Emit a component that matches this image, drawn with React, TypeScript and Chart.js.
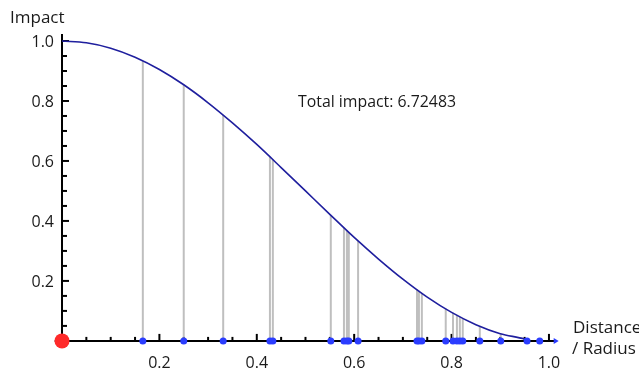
import React, { useEffect, useRef } from "react";
import { Chart, registerables } from "chart.js";

Chart.register(...registerables);

// Curve (Distance / Radius -> Impact)
const curveX = [0, 0.05, 0.1, 0.15, 0.2, 0.25, 0.3, 0.35, 0.4, 0.45, 0.5, 0.55, 0.6, 0.65, 0.7, 0.75, 0.8, 0.85, 0.9, 0.95, 0.96];
const curveY = [1.0, 0.994, 0.976, 0.946, 0.905, 0.854, 0.794, 0.727, 0.655, 0.578, 0.5, 0.422, 0.345, 0.273, 0.206, 0.146, 0.095, 0.054, 0.024, 0.006, 0.0];

// Sample points on the distance axis and their impact values
const sampleX = [0.166, 0.25, 0.331, 0.427, 0.433, 0.552, 0.579, 0.585, 0.589, 0.608, 0.729, 0.733, 0.739, 0.788, 0.803, 0.811, 0.817, 0.823, 0.858, 0.901, 0.955, 0.981];
const sampleImpact = [0.933, 0.854, 0.753, 0.614, 0.605, 0.419, 0.377, 0.368, 0.362, 0.333, 0.171, 0.167, 0.159, 0.107, 0.094, 0.086, 0.08, 0.075, 0.049, 0.024, 0.005, 0.001];

// Origin marker
const originX = [0];
const originY = [0];

// Tick labels
const xTickValues = [0.2, 0.4, 0.6, 0.8, 1.0];
const yTickValues = [0.2, 0.4, 0.6, 0.8, 1.0];
const minorStep = 0.05;

const xAxisTitle = ["Distance", "/ Radius"];
const yAxisTitle = "Impact";
const annotation = "Total impact: 6.72483";

const FONT = '"Open Sans", "DejaVu Sans", sans-serif';

const axesPlugin = {
  id: "customAxes",
  beforeDatasetsDraw(chart: any) {
    const { ctx, chartArea, scales } = chart;
    const xs = scales.x;
    const ys = scales.y;
    const x0 = xs.getPixelForValue(0);
    const y0 = ys.getPixelForValue(0);
    ctx.save();
    ctx.strokeStyle = "#000";
    ctx.lineWidth = 2;
    // y axis
    ctx.beginPath();
    ctx.moveTo(x0, chartArea.top);
    ctx.lineTo(x0, chartArea.bottom);
    ctx.stroke();
    // x axis
    ctx.beginPath();
    ctx.moveTo(chartArea.left, y0);
    ctx.lineTo(chartArea.right - 3, y0);
    ctx.stroke();
    // y ticks
    for (let i = 1; i <= 20; i++) {
      const v = i * minorStep;
      const py = ys.getPixelForValue(v);
      const major = i % 4 === 0;
      ctx.beginPath();
      ctx.moveTo(x0, py);
      ctx.lineTo(x0 + (major ? 7 : 5), py);
      ctx.stroke();
    }
    // x ticks
    for (let i = 1; i <= 20; i++) {
      const v = i * minorStep;
      const px = xs.getPixelForValue(v);
      const major = i % 4 === 0;
      ctx.beginPath();
      ctx.moveTo(px, y0);
      ctx.lineTo(px, y0 - (major ? 7 : 4));
      ctx.stroke();
    }
    // arrow head
    ctx.fillStyle = "#2a3cff";
    ctx.beginPath();
    ctx.moveTo(chartArea.right, y0);
    ctx.lineTo(chartArea.right - 5, y0 - 3);
    ctx.lineTo(chartArea.right - 5, y0 + 3);
    ctx.closePath();
    ctx.fill();

    // labels
    ctx.fillStyle = "#1a1a1a";
    ctx.font = "16px " + FONT;
    ctx.textAlign = "right";
    ctx.textBaseline = "alphabetic";
    yTickValues.forEach((v) => {
      ctx.fillText(v.toFixed(1), x0 - 8, ys.getPixelForValue(v) + 6);
    });
    ctx.textAlign = "center";
    xTickValues.forEach((v) => {
      ctx.fillText(v.toFixed(1), xs.getPixelForValue(v), y0 + 27);
    });
    ctx.textAlign = "left";
    ctx.font = "17px " + FONT;
    ctx.fillText(yAxisTitle, 10, 23);
    ctx.fillText(xAxisTitle[0], 573, 333);
    ctx.fillText(xAxisTitle[1], 572, 354);
    ctx.font = "16px " + FONT;
    ctx.fillText(annotation, 298, 107, 158);
    ctx.restore();
  },
};

export default function App() {
  const ref = useRef<HTMLCanvasElement>(null);
  useEffect(() => {
    if (!ref.current) return;
    const curve = curveX.map((x, i) => ({ x, y: curveY[i] }));
    const stems: any[] = [];
    sampleX.forEach((x, i) => {
      stems.push({ x, y: 0 });
      stems.push({ x, y: sampleImpact[i] });
      stems.push({ x, y: null });
    });
    const samples = sampleX.map((x) => ({ x, y: 0 }));
    const origin = originX.map((x, i) => ({ x, y: originY[i] }));
    const chart = new Chart(ref.current, {
      type: "scatter",
      data: {
        datasets: [
          {
            type: "line",
            data: stems,
            borderColor: "rgba(170,170,170,0.75)",
            borderWidth: 2,
            pointRadius: 0,
            spanGaps: false,
            order: 4,
          } as any,
          {
            type: "line",
            data: curve,
            borderColor: "#1f1f9e",
            borderWidth: 1.6,
            pointRadius: 0,
            cubicInterpolationMode: "monotone",
            order: 3,
          } as any,
          {
            data: samples,
            backgroundColor: "#2b3dff",
            borderWidth: 0,
            pointRadius: 3.5,
            clip: false,
            order: 2,
          } as any,
          {
            data: origin,
            backgroundColor: "#ff2a2a",
            borderWidth: 0,
            pointRadius: 7.5,
            clip: false,
            order: 1,
          } as any,
        ],
      },
      options: {
        animation: false,
        responsive: true,
        maintainAspectRatio: false,
        layout: { padding: { left: 54.7, right: 80.3, top: 34, bottom: 22.1 } },
        plugins: { legend: { display: false }, tooltip: { enabled: false } },
        scales: {
          x: { type: "linear", min: -0.015, max: 1.02, display: false },
          y: { type: "linear", min: -0.02, max: 1.0233, display: false },
        },
      },
      plugins: [axesPlugin],
    });
    return () => chart.destroy();
  }, []);
  return (
    <div style={{ position: "fixed", left: 0, top: 0, width: 639, height: 369, background: "#fff" }}>
      <canvas ref={ref} />
    </div>
  );
}
